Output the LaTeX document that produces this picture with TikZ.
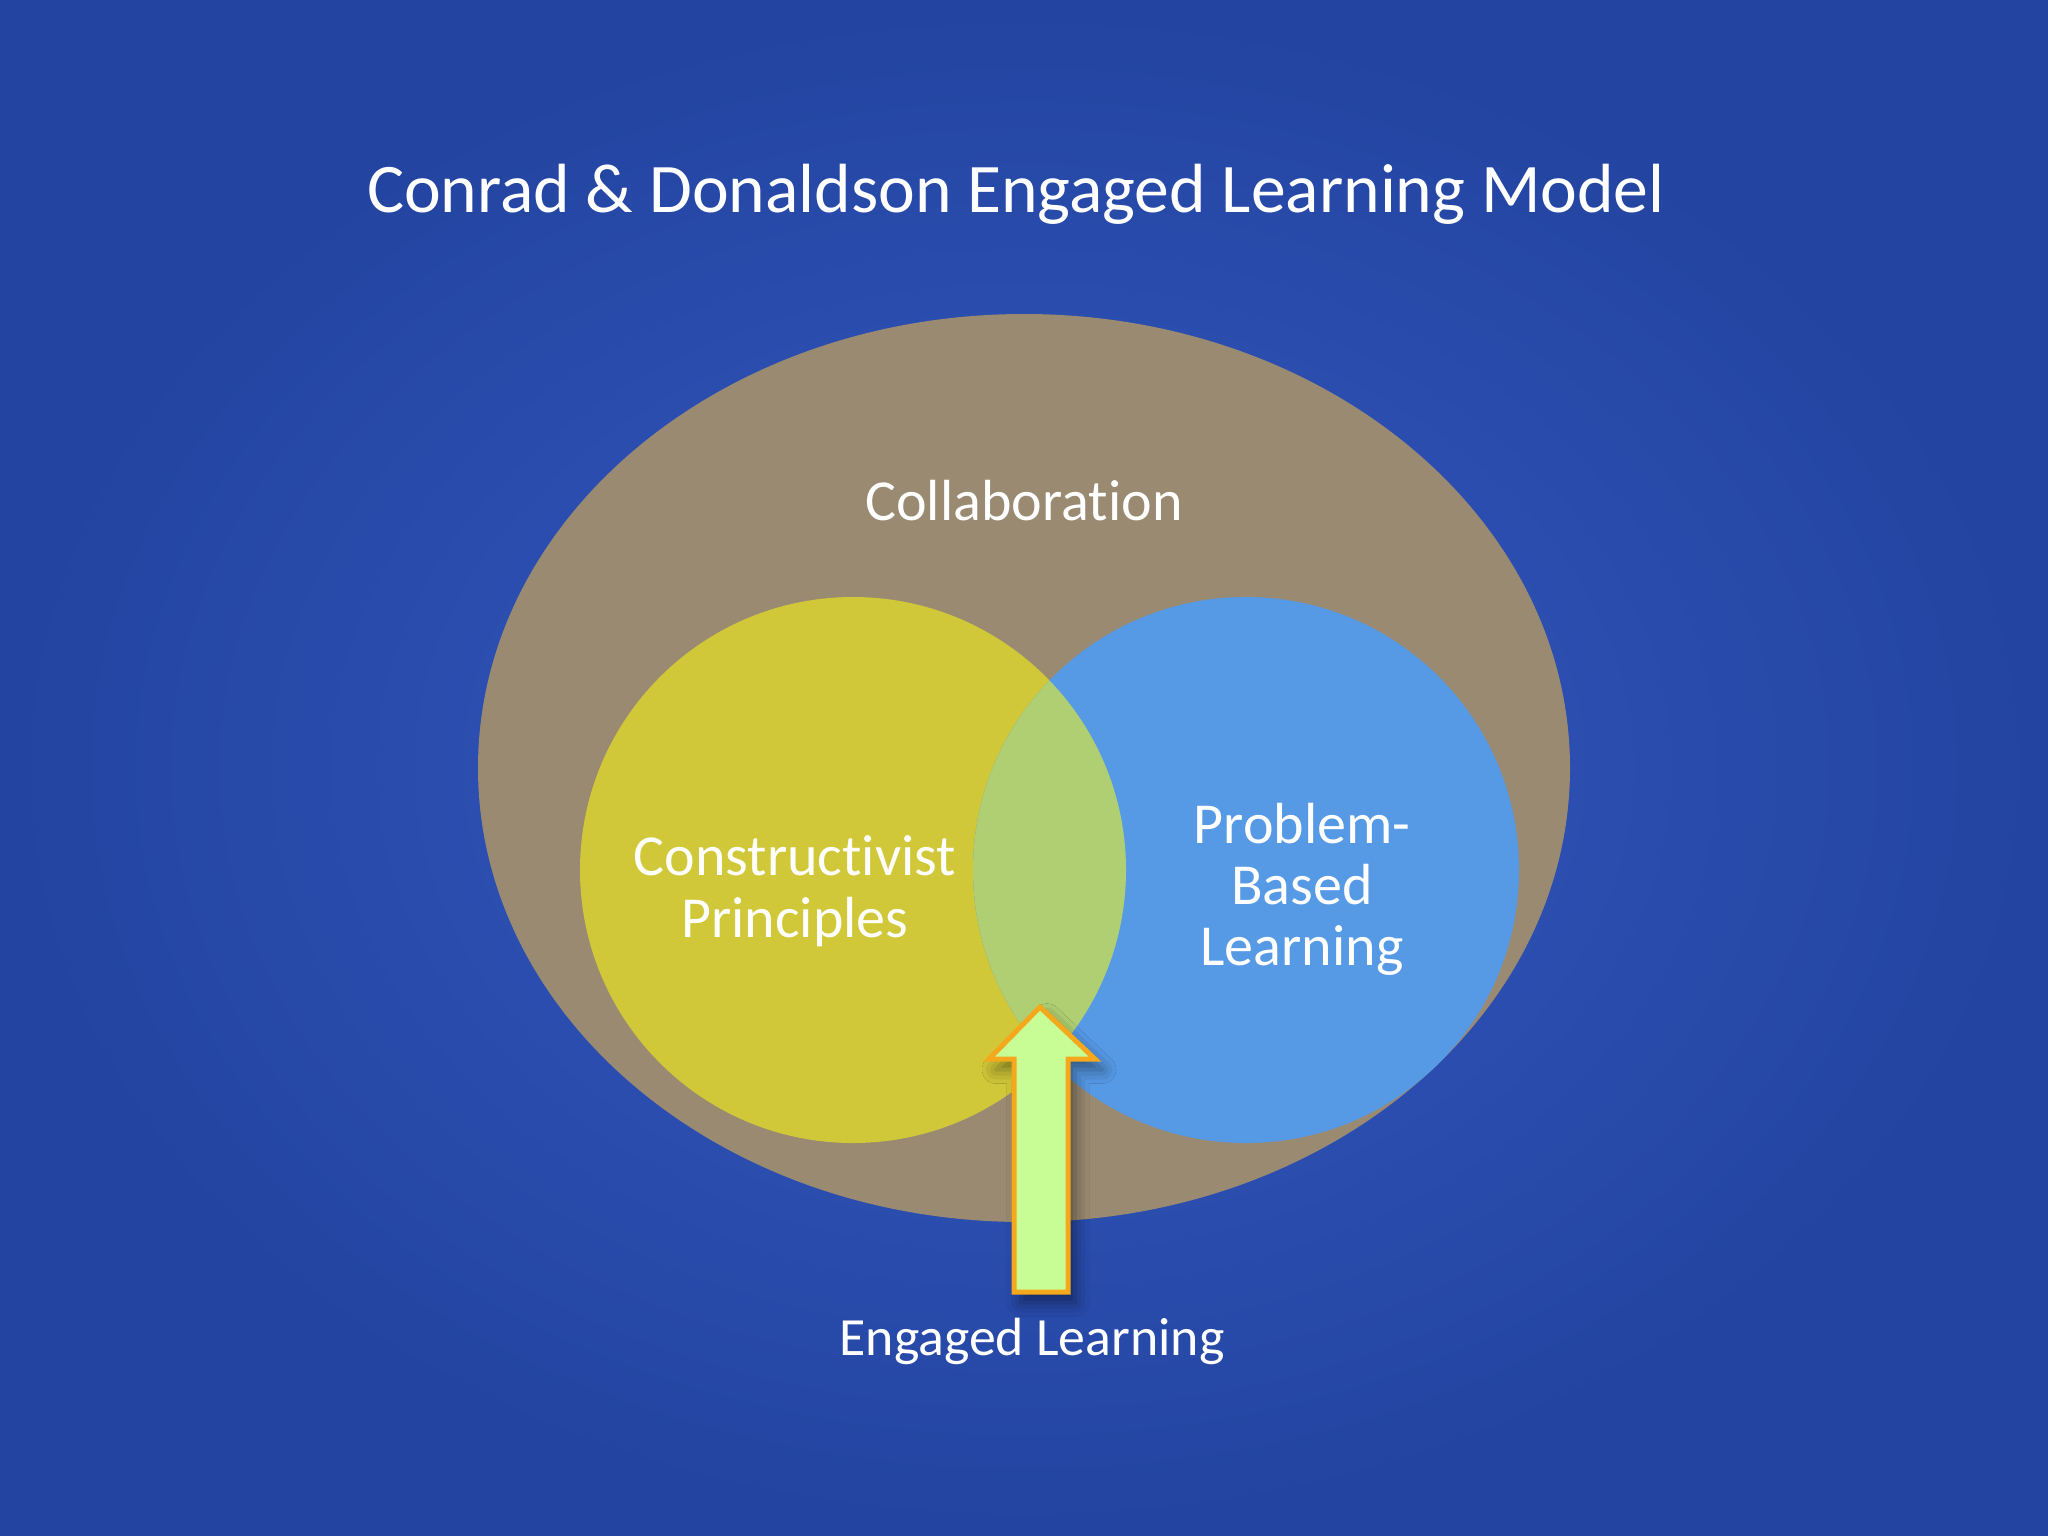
\documentclass[tikz,border=0pt]{standalone}
\usepackage{fontspec}
\setmainfont{Carlito}[Ligatures={NoCommon}]
\usetikzlibrary{shadows.blur}
\definecolor{bgin}{HTML}{3459C2}
\definecolor{bgout}{HTML}{2344A0}
\definecolor{collab}{HTML}{9A8A72}
\definecolor{yel}{HTML}{D0C838}
\definecolor{blu}{HTML}{5699E5}
\definecolor{mix}{HTML}{B0CF72}
\definecolor{arrfill}{HTML}{C8FC94}
\definecolor{arrdraw}{HTML}{F5A81C}
\tikzset{
  lbl/.style={text=white, inner sep=0pt, align=center},
  big/.style={font=\fontsize{19.8pt}{24pt}\selectfont},
  mid/.style={font=\fontsize{16.5pt}{18pt}\selectfont},
  sml/.style={font=\fontsize{15.3pt}{18pt}\selectfont},
}
\begin{document}
\begin{tikzpicture}[x=0.01cm,y=-0.01cm]
\useasboundingbox (0,0) rectangle (2048,1536);
\shade[inner color=bgin, outer color=bgout] (0,0) rectangle (2048,1536);
% collaboration ellipse
\fill[collab] (1024,768) ellipse [x radius=546, y radius=454];
% circles
\fill[yel] (853,870) circle [radius=273];
\fill[blu] (1246,870) circle [radius=273];
\begin{scope}
  \clip (853,870) circle [radius=273];
  \fill[mix] (1246,870) circle [radius=273];
\end{scope}
% labels
\node[lbl, big, anchor=base] (title) at (1016,212) {Conrad \& Donaldson Engaged Learning Model};
\node[lbl, mid, anchor=base] (collab) at (1024,520) {Collaboration};
\node[lbl, mid, anchor=base] (cons) at (795,875) {Constructivist};
\node[lbl, mid, anchor=base] (cons2) at (795,937) {Principles};
\node[lbl, mid, anchor=base] (pbl) at (1302,843) {Problem-};
\node[lbl, mid, anchor=base] (pbl2) at (1302,904) {Based};
\node[lbl, mid, anchor=base] (pbl3) at (1302,965) {Learning};
\node[lbl, sml, anchor=base] (eng) at (1032,1355) {Engaged Learning};
% arrow
\coordinate (tip) at (1040,1007);
\filldraw[fill=arrfill, draw=arrdraw, line width=5pt*0.2835, line join=miter,
  blur shadow={shadow xshift=2pt, shadow yshift=-3pt, shadow opacity=45, shadow blur radius=4pt}]
  (tip) -- (1095,1059) -- (1068,1059) -- (1068,1292) -- (1014,1292) -- (1014,1059) -- (989,1059) -- cycle;
\end{tikzpicture}
\end{document}
